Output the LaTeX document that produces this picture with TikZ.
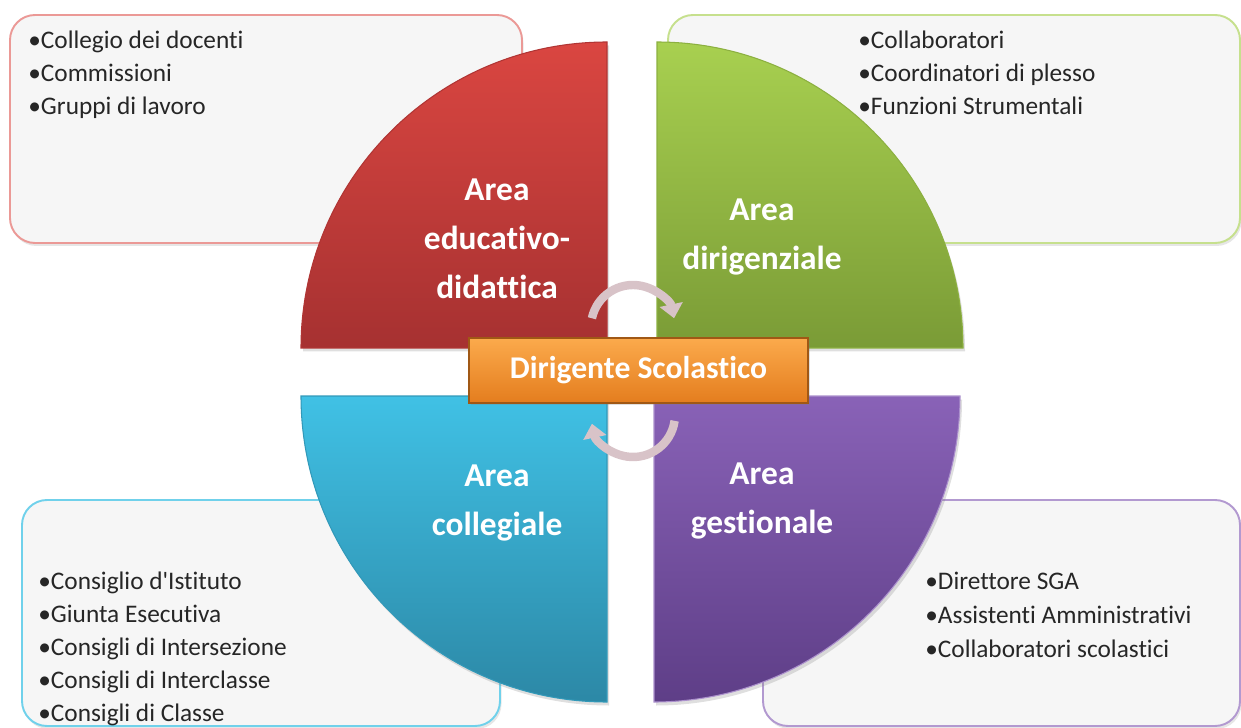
\documentclass[tikz,border=0pt]{standalone}
\usepackage{fontspec}
\setmainfont{Carlito}[Ligatures=NoCommon]
\usetikzlibrary{arrows.meta,shadows}

\definecolor{redtop}{HTML}{DA4641}
\definecolor{redbot}{HTML}{A63131}
\definecolor{greentop}{HTML}{A8D050}
\definecolor{greenbot}{HTML}{7A9B36}
\definecolor{bluetop}{HTML}{40C1E5}
\definecolor{bluebot}{HTML}{2C88A6}
\definecolor{purpletop}{HTML}{8962B7}
\definecolor{purplebot}{HTML}{5E3E87}
\definecolor{orangetop}{HTML}{FBAA4C}
\definecolor{orangebot}{HTML}{E47D1E}
\definecolor{boxfill}{HTML}{F6F6F6}
\definecolor{arrowcol}{HTML}{D8C3C8}

\begin{document}
\begin{tikzpicture}[
  listbox/.style={rounded corners=0.5cm,fill=boxfill,line width=1.1pt,
    drop shadow={opacity=0.2,shadow xshift=0.03cm,shadow yshift=-0.06cm}},
  quad/.style={line width=0.6pt,
    drop shadow={opacity=0.25,shadow xshift=0.04cm,shadow yshift=-0.07cm}},
  item/.style={anchor=base west,inner sep=0,text=black!85,font=\fontsize{14.4}{17}\selectfont},
  arealabel/.style={align=center,text=white,font=\bfseries\fontsize{19}{28}\selectfont},
  cyc/.style={arrowcol,line width=4.8pt,-{Triangle[width=13pt,length=8pt]}}]
 \useasboundingbox (0,0) rectangle (24.82,14.54);
 \clip (0,0) rectangle (24.82,14.54);
 % boxes behind the quarters
 \draw[listbox,draw=redtop!55] (0.2,9.68) rectangle (10.44,14.24);
 \draw[listbox,draw=greentop!65] (13.36,9.68) rectangle (24.8,14.24);
 \draw[listbox,draw=bluetop!75] (0.44,0.02) rectangle (10.0,4.54);
 \draw[listbox,draw=purpletop!65] (15.26,0.02) rectangle (24.8,4.54);
 \foreach \t [count=\i] in {Collegio dei docenti,Commissioni,Gruppi di lavoro}
  \node[item] (edu\i) at (0.56,14.22-0.66*\i) {•\t};
 \foreach \t [count=\i] in {Collaboratori,Coordinatori di plesso,Funzioni Strumentali}
  \node[item] (dir\i) at (17.16,14.22-0.66*\i) {•\t};
 \foreach \t [count=\i] in {Consiglio d\textquotesingle Istituto,Giunta Esecutiva,Consigli di Intersezione,Consigli di Interclasse,Consigli di Classe}
  \node[item] (col\i) at (0.76,3.42-0.66*\i) {•\t};
 \foreach \t [count=\i] in {Direttore SGA,Assistenti Amministrativi,Collaboratori scolastici}
  \node[item] (ges\i) at (18.5,3.44-0.68*\i) {•\t};
 % the four quarters
 \path[quad,draw=redbot!80!redtop,top color=redtop,bottom color=redbot]
  (12.14,7.58) -- ++(0,6.12) arc[start angle=90,end angle=180,radius=6.12] -- cycle;
 \path[quad,draw=greenbot!60!greentop,top color=greentop,bottom color=greenbot]
  (13.14,7.58) -- ++(6.12,0) arc[start angle=0,end angle=90,radius=6.12] -- cycle;
 \path[quad,draw=bluebot!70!bluetop,top color=bluetop,bottom color=bluebot]
  (12.14,6.62) -- ++(-6.12,0) arc[start angle=180,end angle=270,radius=6.12] -- cycle;
 \path[quad,draw=purpletop!70!white,top color=purpletop,bottom color=purplebot]
  (13.08,6.62) -- ++(0,-6.12) arc[start angle=270,end angle=360,radius=6.12] -- cycle;
 \node[arealabel] (edu) at (9.94,9.76) {Area\\educativo-\\didattica};
 \node[arealabel] (dir) at (15.24,9.80) {Area\\dirigenziale};
 \node[arealabel] (col) at (9.94,4.48) {Area\\collegiale};
 \node[arealabel] (ges) at (15.24,4.52) {Area\\gestionale};
 % centre
 \node[draw=orangebot!70!black,line width=0.6pt,top color=orangetop,bottom color=orangebot,
  minimum width=6.78cm,minimum height=1.3cm,text=white,font=\bfseries\fontsize{18}{20}\selectfont,
  drop shadow={opacity=0.25,shadow xshift=0.03cm,shadow yshift=-0.05cm}]
  (ds) at (12.77,7.13) {Dirigente Scolastico};
 \coordinate (topc) at (12.66,8.0);
 \coordinate (botc) at (12.66,6.24);
 \draw[cyc] ([shift={(168:0.84)}]topc) arc[start angle=168,end angle=12,radius=0.84];
 \draw[cyc] ([shift={(-8:0.84)}]botc) arc[start angle=-8,end angle=-168,radius=0.84];
\end{tikzpicture}
\end{document}
